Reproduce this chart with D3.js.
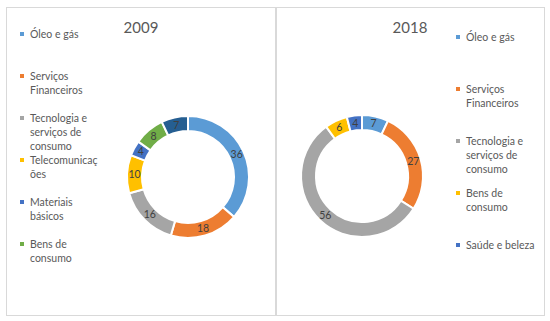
<!DOCTYPE html>
<html><head><meta charset="utf-8">
<script src="https://cdn.jsdelivr.net/npm/d3@7"></script>
<style>body{margin:0;background:#fff}svg{display:block}</style>
</head><body>
<svg id="c" width="550" height="321"></svg>
<script>
const years = ["2009", "2018"];
const values2009 = [36, 18, 16, 10, 4, 8, 7];
const colors2009 = ["#5B9BD5", "#ED7D31", "#A5A5A5", "#FFC000", "#4472C4", "#70AD47", "#255E91"];
const legend2009 = [["Óleo e gás"], ["Serviços", "Financeiros"], ["Tecnologia e", "serviços de", "consumo"], ["Telecomunicaç", "ões"], ["Materiais", "básicos"], ["Bens de", "consumo"]];
const values2018 = [7, 27, 56, 6, 4];
const colors2018 = ["#5B9BD5", "#ED7D31", "#A5A5A5", "#FFC000", "#4472C4"];
const legend2018 = [["Óleo e gás"], ["Serviços", "Financeiros"], ["Tecnologia e", "serviços de", "consumo"], ["Bens de", "consumo"], ["Saúde e beleza"]];

const svg = d3.select("#c");
const font = "Lato, 'Open Sans', sans-serif";

const panels = [
  {x: 6, w: 269, title: years[0], tx: 141, cx: 188, cy: 177, vals: values2009, cols: colors2009, leg: legend2009, lx: 22, ly: 34, lstep: 42},
  {x: 276, w: 268, title: years[1], tx: 410, cx: 362, cy: 176, vals: values2018, cols: colors2018, leg: legend2018, lx: 458, ly: 37, lstep: 52}
];

panels.forEach(p => {
  const g = svg.append("g");
  g.append("rect").attr("x", p.x + 0.5).attr("y", 7.5).attr("width", p.w).attr("height", 308)
    .attr("fill", "#fff").attr("stroke", "#d9d9d9").attr("stroke-width", 1);
  g.append("text").attr("x", p.tx).attr("y", 33).attr("text-anchor", "middle")
    .attr("font-family", font).attr("font-size", 15).attr("fill", "#595959").text(p.title);

  const pie = d3.pie().sort(null).startAngle(0).endAngle(2 * Math.PI);
  const arcs = pie(p.vals);
  const arc = d3.arc().innerRadius(46).outerRadius(61);
  const dg = g.append("g").attr("transform", `translate(${p.cx},${p.cy})`);
  dg.selectAll("path").data(arcs).join("path")
    .attr("d", arc).attr("fill", (d, i) => p.cols[i])
    .attr("stroke", "#fff").attr("stroke-width", 2);
  dg.selectAll("text").data(arcs).join("text")
    .attr("transform", d => `translate(${arc.centroid(d)})`)
    .attr("text-anchor", "middle").attr("dy", "0.35em")
    .attr("font-family", font).attr("font-size", 10.5).attr("fill", "#404040")
    .text(d => d.data);

  const lg = g.append("g");
  p.leg.forEach((lines, i) => {
    const y0 = p.ly + i * p.lstep;
    lg.append("rect").attr("x", p.lx - 2).attr("y", y0 - 2).attr("width", 4).attr("height", 4)
      .attr("fill", p.cols[i]);
    lines.forEach((ln, j) => {
      lg.append("text").attr("x", p.lx + 8).attr("y", y0 + j * 14).attr("dy", "0.35em")
        .attr("font-family", font).attr("font-size", 10.5).attr("fill", "#595959").text(ln);
    });
  });
});
</script>
</body></html>
